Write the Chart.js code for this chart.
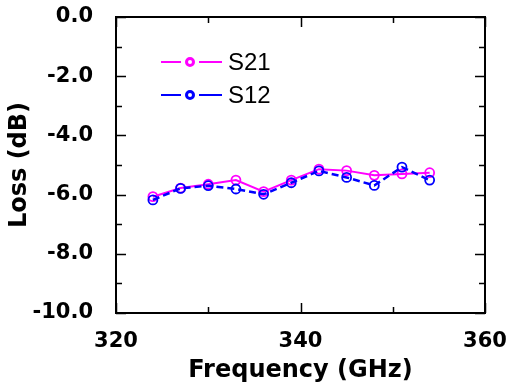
<!DOCTYPE html>
<html>
<head>
<meta charset="utf-8">
<script src="https://cdn.jsdelivr.net/npm/chart.js@4"></script>
<style>
  html, body { margin: 0; padding: 0; background: #fff; }
  canvas { display: block; }
</style>
</head>
<body>
<canvas id="lossChart" width="509" height="392" style="width:509px;height:392px"></canvas>
<script>
// frequency points (GHz)
const freqs = [324, 327, 330, 333, 336, 339, 342, 345, 348, 351, 354];
// S21 / S12 loss (dB)
const s21 = [-6.07, -5.78, -5.65, -5.51, -5.90, -5.51, -5.14, -5.19, -5.35, -5.30, -5.26];
const s12 = [-6.18, -5.79, -5.70, -5.81, -5.99, -5.60, -5.20, -5.42, -5.69, -5.07, -5.51];
const seriesNames = ['S21', 'S12'];
const seriesColors = ['#ff00ff', '#0000ff'];

const xMin = 320, xMax = 360;
const yMin = -10, yMax = 0;

const toPoints = (ys) => freqs.map((f, i) => ({ x: f, y: ys[i] }));

// frame + inward ticks on all four sides, plus the legend
const framePlugin = {
  id: 'frame',
  afterDraw(chart) {
    const c = chart.ctx;
    const a = chart.chartArea;
    const xs = chart.scales.x, ys = chart.scales.y;
    c.save();
    c.strokeStyle = '#000';
    c.lineWidth = 2;
    c.strokeRect(a.left, a.top, a.right - a.left, a.bottom - a.top);
    c.lineWidth = 1.5;
    c.beginPath();
    for (let v = xMin; v <= xMax; v += 10) {
      const len = (v - xMin) % 20 === 0 ? 10 : 6;
      const px = Math.round(xs.getPixelForValue(v)) + 0.5;
      c.moveTo(px, a.bottom); c.lineTo(px, a.bottom - len);
      c.moveTo(px, a.top); c.lineTo(px, a.top + len);
    }
    for (let v = yMin; v <= yMax; v += 1) {
      const len = (v - yMin) % 2 === 0 ? 10 : 6;
      const py = Math.round(ys.getPixelForValue(v)) + 0.5;
      c.moveTo(a.left, py); c.lineTo(a.left + len, py);
      c.moveTo(a.right, py); c.lineTo(a.right - len, py);
    }
    c.stroke();

    // legend
    const lx = 161, ly = [62, 95];
    c.font = '24px "Liberation Sans", Arial, sans-serif';
    c.textBaseline = 'middle';
    seriesNames.forEach((name, i) => {
      c.strokeStyle = seriesColors[i];
      c.lineWidth = 2;
      c.beginPath();
      c.moveTo(lx, ly[i]); c.lineTo(lx + 20, ly[i]);
      c.moveTo(lx + 38, ly[i]); c.lineTo(lx + 61, ly[i]);
      c.stroke();
      c.lineWidth = 3;
      c.beginPath();
      c.arc(lx + 29, ly[i], 3.5, 0, Math.PI * 2);
      c.stroke();
      c.fillStyle = '#000';
      c.fillText(name, lx + 67, ly[i] + 1);
    });
    c.restore();
  }
};

const tickFont = { family: '"DejaVu Sans", sans-serif', size: 21, weight: 'bold' };
const titleFont = { family: '"DejaVu Sans", sans-serif', size: 24, weight: 'bold' };

new Chart(document.getElementById('lossChart'), {
  type: 'line',
  data: {
    datasets: [
      {
        label: seriesNames[0],
        data: toPoints(s21),
        borderColor: seriesColors[0],
        backgroundColor: '#fff',
        borderWidth: 2,
        pointRadius: 4.5,
        pointBorderWidth: 1.8,
        pointBackgroundColor: 'rgba(0,0,0,0)',
        order: 1
      },
      {
        label: seriesNames[1],
        data: toPoints(s12),
        borderColor: seriesColors[1],
        backgroundColor: '#fff',
        borderWidth: 2.5,
        borderDash: [7, 4],
        pointRadius: 4.5,
        pointBorderWidth: 1.8,
        pointBackgroundColor: 'rgba(0,0,0,0)',
        order: 0
      }
    ]
  },
  options: {
    responsive: false,
    animation: false,
    devicePixelRatio: 1,
    layout: { padding: { top: 17, right: 24, left: 0, bottom: 0 } },
    plugins: { legend: { display: false }, tooltip: { enabled: false } },
    scales: {
      x: {
        type: 'linear',
        min: xMin, max: xMax,
        grid: { display: false },
        border: { display: false },
        ticks: { stepSize: 20, color: '#000', font: tickFont, padding: 8, maxRotation: 0 },
        title: { display: true, text: 'Frequency (GHz)', color: '#000', font: titleFont, padding: { top: 0, bottom: 7 } },
        afterFit(s) { s.height = 79; s.paddingLeft = 0; s.paddingRight = 0; }
      },
      y: {
        min: yMin, max: yMax,
        grid: { display: false },
        border: { display: false },
        ticks: { stepSize: 2, color: '#000', font: tickFont, padding: 15, callback: (v) => v.toFixed(1) },
        title: { display: true, text: 'Loss (dB)', color: '#000', font: titleFont, padding: { top: 5, bottom: 0 } },
        afterFit(s) { s.width = 116; s.paddingTop = 0; s.paddingBottom = 0; }
      }
    }
  },
  plugins: [framePlugin]
});
</script>
</body>
</html>
